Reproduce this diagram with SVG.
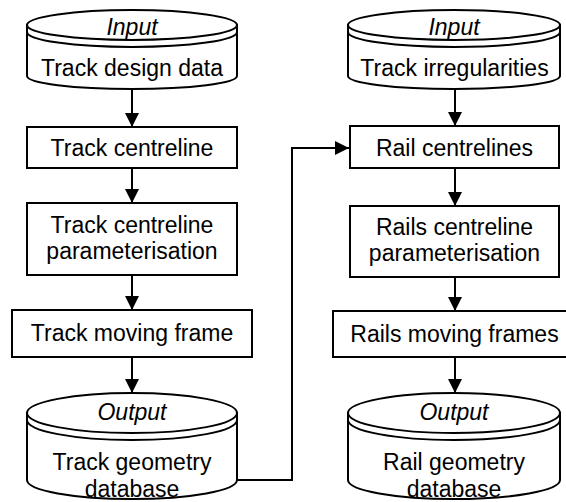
<svg xmlns="http://www.w3.org/2000/svg" width="566" height="502" viewBox="0 0 566 502">
<style>
.s{fill:#fff;stroke:#000;stroke-width:2}
.n{fill:none;stroke:#000;stroke-width:2}
.t{font-family:"Liberation Sans",Arial,sans-serif;font-size:23px;fill:#000;text-anchor:middle}
.i{font-style:italic}
.c{fill:none;stroke:#000;stroke-width:2}
</style>
<defs>
<marker id="ah" markerUnits="userSpaceOnUse" markerWidth="14" markerHeight="14" viewBox="0 0 14 14" refX="14" refY="7" orient="auto">
<path d="M0,0 L14,7 L0,14 Z" fill="#000"/>
</marker>
</defs>
<rect width="566" height="502" fill="#fff"/>

<g id="in-left">
<path class="s" d="M27,25 L27,76 A105,13 0 0 0 237,76 L237,25 Z"/>
<ellipse class="s" cx="132" cy="25" rx="105" ry="15"/>
<path class="n" d="M27,32 A105,15 0 0 0 237,32"/>
<text class="t i" x="132" y="35">Input</text>
<text class="t" x="132" y="76">Track design data</text>
</g>

<g id="track-centreline">
<rect class="s" x="27" y="127" width="210" height="41"/>
<text class="t" x="132" y="156">Track centreline</text>
</g>

<g id="track-param">
<rect class="s" x="27" y="203" width="210" height="72"/>
<text class="t" x="132" y="233">Track centreline</text>
<text class="t" x="132" y="259">parameterisation</text>
</g>

<g id="track-frame">
<rect class="s" x="12" y="310" width="240" height="47"/>
<text class="t" x="132" y="341">Track moving frame</text>
</g>

<g id="out-left">
<path class="s" d="M27,413 L27,480 A105,19 0 0 0 237,480 L237,413 Z"/>
<ellipse class="s" cx="132" cy="413" rx="105" ry="20"/>
<path class="n" d="M27,420 A105,20 0 0 0 237,420"/>
<text class="t i" x="132" y="420">Output</text>
<text class="t" x="132" y="470">Track geometry</text>
<text class="t" x="132" y="497">database</text>
</g>

<g id="in-right">
<path class="s" d="M348,25 L348,76 A106,13 0 0 0 560,76 L560,25 Z"/>
<ellipse class="s" cx="454" cy="25" rx="106" ry="15"/>
<path class="n" d="M348,32 A106,15 0 0 0 560,32"/>
<text class="t i" x="454" y="35">Input</text>
<text class="t" x="454.5" y="76">Track irregularities</text>
</g>

<g id="rail-centrelines">
<rect class="s" x="350" y="126" width="209" height="42"/>
<text class="t" x="454.5" y="156">Rail centrelines</text>
</g>

<g id="rails-param">
<rect class="s" x="350" y="206" width="209" height="71"/>
<text class="t" x="454.5" y="235">Rails centreline</text>
<text class="t" x="454.5" y="261">parameterisation</text>
</g>

<g id="rails-frames">
<rect class="s" x="333" y="311" width="236" height="46"/>
<text class="t" x="454.5" y="342">Rails moving frames</text>
</g>

<g id="out-right">
<path class="s" d="M348,413 L348,480 A106,19 0 0 0 560,480 L560,413 Z"/>
<ellipse class="s" cx="454" cy="413" rx="106" ry="20"/>
<path class="n" d="M348,420 A106,20 0 0 0 560,420"/>
<text class="t i" x="454" y="420">Output</text>
<text class="t" x="454" y="470">Rail geometry</text>
<text class="t" x="454" y="497">database</text>
</g>

<g id="connectors">
<line class="c" x1="132" y1="89" x2="132" y2="127" marker-end="url(#ah)"/>
<line class="c" x1="132" y1="168" x2="132" y2="203" marker-end="url(#ah)"/>
<line class="c" x1="132" y1="275" x2="132" y2="310" marker-end="url(#ah)"/>
<line class="c" x1="132" y1="357" x2="132" y2="393" marker-end="url(#ah)"/>
<line class="c" x1="455" y1="89" x2="455" y2="126" marker-end="url(#ah)"/>
<line class="c" x1="455" y1="168" x2="455" y2="206" marker-end="url(#ah)"/>
<line class="c" x1="455" y1="277" x2="455" y2="311" marker-end="url(#ah)"/>
<line class="c" x1="455" y1="357" x2="455" y2="393" marker-end="url(#ah)"/>
<path class="c" d="M237,480 L292,480 L292,148 L349,148" marker-end="url(#ah)"/>
</g>
</svg>
